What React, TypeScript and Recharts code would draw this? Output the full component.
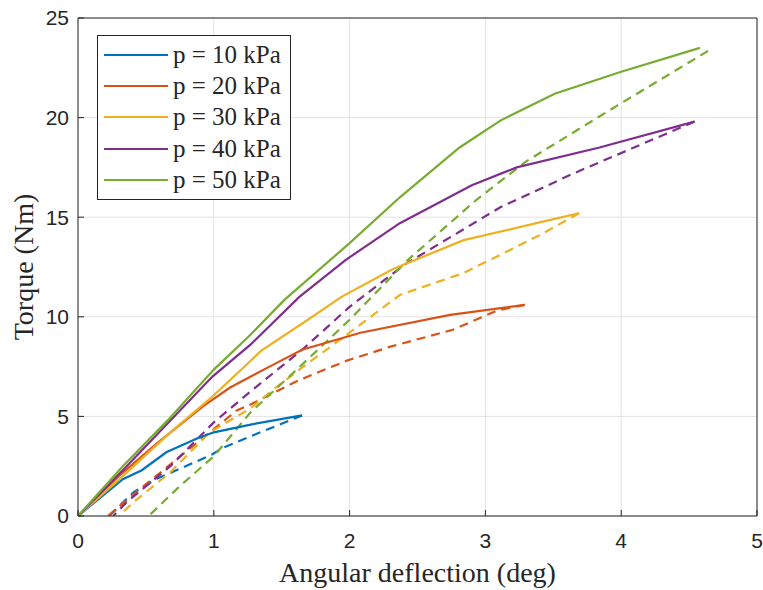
import React from "react";
import { LineChart, Line, XAxis, YAxis, CartesianGrid, Legend, Label } from "recharts";

// axis ticks
const xTicks = [0, 1, 2, 3, 4, 5];
const yTicks = [0, 5, 10, 15, 20, 25];

// series names + MATLAB default colours
const seriesNames = ["p = 10 kPa", "p = 20 kPa", "p = 30 kPa", "p = 40 kPa", "p = 50 kPa"];
const seriesColors = ["#0072BD", "#D95319", "#EDB120", "#7E2F8E", "#77AC30"];

// [deflection (deg), torque (Nm)] — loading (solid) / unloading (dashed)
const load10 = [[0, 0], [0.33, 1.85], [0.47, 2.3], [0.65, 3.2], [0.88, 3.9], [1.0, 4.2], [1.28, 4.6], [1.65, 5.05]];
const unload10 = [[1.65, 5.05], [1.55, 4.77], [1.27, 4.0], [1.06, 3.4], [0.99, 3.1], [0.86, 2.7], [0.59, 1.9], [0.41, 1.2], [0.23, 0]];

const load20 = [[0, 0], [0.3, 2.0], [0.59, 3.7], [0.92, 5.5], [1.12, 6.45], [1.41, 7.5], [1.65, 8.35], [2.08, 9.2], [2.74, 10.1], [3.29, 10.6]];
const unload20 = [[3.29, 10.6], [3.08, 10.3], [2.76, 9.35], [2.3, 8.5], [1.98, 7.8], [1.62, 6.8], [1.27, 5.6], [1.17, 5.3], [0.97, 4.2], [0.7, 2.7], [0.43, 1.2], [0.22, 0]];

const load30 = [[0, 0], [0.33, 2.0], [0.68, 4.2], [0.99, 6.0], [1.35, 8.3], [1.66, 9.7], [1.94, 11.0], [2.32, 12.4], [2.84, 13.85], [3.47, 14.85], [3.69, 15.2]];
const unload30 = [[3.69, 15.2], [3.4, 14.1], [2.84, 12.2], [2.37, 11.1], [1.93, 8.85], [1.66, 7.5], [1.41, 6.2], [1.27, 5.4], [0.97, 4.2], [0.68, 2.2], [0.41, 0.7], [0.3, 0]];

const load40 = [[0, 0], [0.33, 2.3], [0.99, 7.0], [1.27, 8.6], [1.63, 11.0], [1.97, 12.85], [2.37, 14.7], [2.9, 16.6], [3.23, 17.5], [3.84, 18.5], [4.54, 19.8]];
const unload40 = [[4.54, 19.8], [3.65, 17.2], [3.11, 15.5], [2.4, 12.6], [2.0, 10.5], [1.66, 8.4], [1.27, 6.25], [1.0, 4.7], [0.68, 2.5], [0.36, 0.7], [0.26, 0]];

const load50 = [[0, 0], [0.33, 2.5], [0.66, 4.8], [1.0, 7.35], [1.27, 9.1], [1.52, 10.85], [2.0, 13.7], [2.37, 16.0], [2.81, 18.5], [3.11, 19.85], [3.51, 21.2], [4.0, 22.3], [4.58, 23.5]];
const unload50 = [[4.64, 23.35], [3.97, 20.6], [3.3, 17.8], [2.93, 15.85], [2.42, 12.8], [2.0, 9.85], [1.65, 7.6], [1.27, 5.2], [1.0, 3.0], [0.75, 1.5], [0.52, 0]];

const loadSets = [load10, load20, load30, load40, load50];
const unloadSets = [unload10, unload20, unload30, unload40, unload50];

const toPoints = (arr: number[][]) => arr.map(([x, y]) => ({ x, y }));

const AXIS = "#262626";
const SERIF = '"Liberation Serif", "Times New Roman", serif';
const SANS = '"Liberation Sans", Arial, sans-serif';

function renderLegend() {
  return (
    <div
      style={{
        width: 192,
        height: 160,
        border: `1px solid ${AXIS}`,
        background: "#fff",
        fontFamily: SERIF,
        fontSize: 25,
        color: AXIS,
        boxSizing: "content-box",
        paddingTop: 3,
      }}
    >
      {seriesNames.map((name, i) => (
        <div key={name} style={{ display: "flex", alignItems: "center", height: 31.4 }}>
          <span
            style={{
              display: "inline-block",
              width: 64,
              height: 0,
              borderTop: `2px solid ${seriesColors[i]}`,
              marginLeft: 6,
              marginRight: 5,
            }}
          />
          <span style={{ whiteSpace: "nowrap" }}>{name}</span>
        </div>
      ))}
    </div>
  );
}

export default function App() {
  return (
    <div style={{ position: "absolute", left: 0, top: 0, width: 763, height: 590, background: "#fff" }}>
      <LineChart width={763} height={590} margin={{ top: 17, right: 5, bottom: 0, left: 0 }}>
        <CartesianGrid stroke="#e3e3e3" strokeWidth={1} />
        <XAxis
          dataKey="x"
          type="number"
          domain={[0, 5]}
          ticks={xTicks}
          allowDataOverflow
          height={74}
          stroke={AXIS}
          tickSize={-6}
          tickMargin={23}
          tick={{ fontSize: 21, fill: AXIS, fontFamily: SANS }}
        >
          <Label
            content={(props: any) => {
              const vb = props.viewBox || { x: 78, y: 516, width: 679 };
              return (
                <text
                  x={vb.x + vb.width / 2}
                  y={vb.y + 66}
                  textAnchor="middle"
                  fontFamily={SERIF}
                  fontSize={28}
                  fill={AXIS}
                >
                  Angular deflection (deg)
                </text>
              );
            }}
          />
        </XAxis>
        <XAxis
          xAxisId="top"
          orientation="top"
          dataKey="x"
          type="number"
          domain={[0, 5]}
          ticks={xTicks}
          allowDataOverflow
          height={1}
          stroke={AXIS}
          tickSize={-6}
          tick={false}
        />
        <YAxis
          type="number"
          domain={[0, 25]}
          ticks={yTicks}
          allowDataOverflow
          width={78}
          stroke={AXIS}
          tickSize={-6}
          tickMargin={15}
          tick={{ fontSize: 21, fill: AXIS, fontFamily: SANS }}
        >
          <Label
            content={(props: any) => {
              const vb = props.viewBox || { x: 0, y: 18, height: 498 };
              const cx = 33;
              const cy = vb.y + vb.height / 2;
              return (
                <text
                  x={cx}
                  y={cy}
                  transform={`rotate(-90, ${cx}, ${cy})`}
                  textAnchor="middle"
                  fontFamily={SERIF}
                  fontSize={28}
                  fill={AXIS}
                >
                  Torque (Nm)
                </text>
              );
            }}
          />
        </YAxis>
        <YAxis
          yAxisId="right"
          orientation="right"
          type="number"
          domain={[0, 25]}
          ticks={yTicks}
          allowDataOverflow
          width={1}
          stroke={AXIS}
          tickSize={-6}
          tick={false}
        />
        {unloadSets.map((set, i) => (
          <Line
            key={`u-${i}`}
            data={toPoints(set)}
            dataKey="y"
            xAxisId="top"
            yAxisId="right"
            type="linear"
            stroke={seriesColors[i]}
            strokeWidth={2.2}
            strokeDasharray="9 6"
            dot={false}
            activeDot={false}
            legendType="none"
            isAnimationActive={false}
          />
        ))}
        {loadSets.map((set, i) => (
          <Line
            key={`l-${i}`}
            data={toPoints(set)}
            dataKey="y"
            name={seriesNames[i]}
            type="linear"
            stroke={seriesColors[i]}
            strokeWidth={2.2}
            dot={false}
            activeDot={false}
            isAnimationActive={false}
          />
        ))}
        <Legend
          layout="horizontal"
          verticalAlign="middle"
          align="center"
          content={renderLegend}
          wrapperStyle={{ left: 97, top: 35, width: 194, height: 164 }}
        />
      </LineChart>
    </div>
  );
}
